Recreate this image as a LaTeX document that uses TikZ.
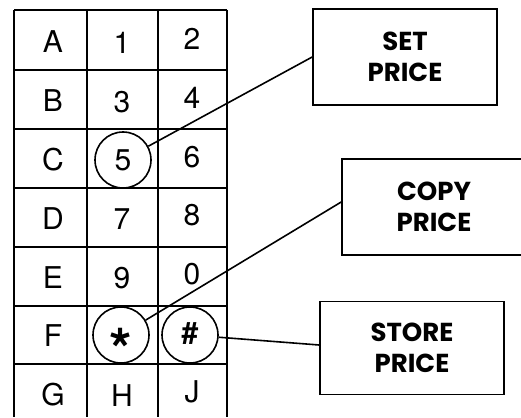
\documentclass[tikz,border=0pt]{standalone}
\usepackage{fontspec}
\setmainfont{TeX Gyre Heros}
\newfontfamily\labelfont{Poppins}

\tikzset{
  key/.style={circle, draw, line width=1.6pt, minimum size=56pt, inner sep=0pt},
  pricebox/.style={draw, line width=1.6pt, align=center, inner sep=0pt,
    font=\labelfont\bfseries\fontsize{26}{31}\selectfont},
}

\begin{document}
\begin{tikzpicture}[x=1pt, y=-1pt, line width=1.6pt, font=\fontsize{30}{32}\selectfont]
  \useasboundingbox (0,0) rectangle (521,417);
  % keypad grid
  \foreach \x in {14,87,158,227} \draw (\x,10) -- (\x,417);
  \foreach \y in {10,70,129,188,247,306,364} \draw (14,\y) -- (227,\y);
  % keys
  \foreach \a/\b/\c [count=\i from 0] in {A/1/2, B/3/4, C//6, D/7/8, E/9/0, F//, G/H/J} {
    \node (left\i) at (53,42+58.8*\i) {\a};
    \node (mid\i) at (122,43+58.8*\i) {\b};
    \node (right\i) at (192,39+58.8*\i) {\c};
  }
  \node[key] (five) at (123,160) {5};
  \node[key] (star) at (121,335) {\smash{\raisebox{-35pt}{\bfseries\fontsize{58}{58}\selectfont *}}};
  \node[key] (hash) at (190,335) {\raisebox{0.25ex}{\bfseries\#}};
  % function boxes
  \node[pricebox, minimum width=184pt, minimum height=96pt] (setprice) at (405,57) {SET\\PRICE};
  \node[pricebox, minimum width=184pt, minimum height=96pt] (copyprice) at (434,207) {COPY\\PRICE};
  \node[pricebox, minimum width=184pt, minimum height=93pt] (storeprice) at (412,348) {STORE\\PRICE};
  \draw (five) -- (setprice.west);
  \draw (star) -- ([yshift=5pt]copyprice.west);
  \draw (hash) -- ([yshift=3pt]storeprice.west);
\end{tikzpicture}
\end{document}
